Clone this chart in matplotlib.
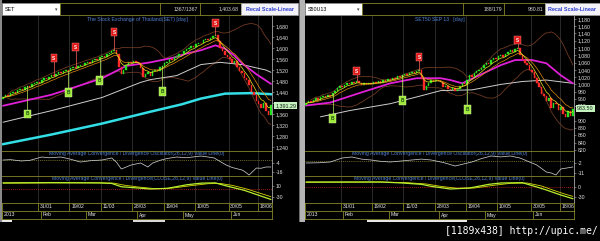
import matplotlib
matplotlib.use("Agg")
import matplotlib.pyplot as plt
import matplotlib.transforms as mtransforms
from matplotlib.patches import Rectangle
import numpy as np
import pandas as pd

plt.rcParams['font.family'] = ['Liberation Sans', 'DejaVu Sans']

W, H = 600, 241

# ---------------- data ----------------
set_first_open = 1415
set_close = [1420, 1428, 1425, 1436, 1441, 1438, 1447, 1452, 1449, 1458, 1463, 1460, 1468, 1474,
             1478, 1472, 1483, 1490, 1487, 1495, 1502, 1498, 1506, 1512, 1509, 1516, 1521, 1518,
             1526, 1531, 1527, 1535, 1540, 1537, 1545, 1551, 1547, 1555, 1560, 1557, 1566,
             1572, 1568, 1577, 1583, 1588, 1592, 1579, 1530, 1505, 1522, 1540, 1548, 1544,
             1553, 1550, 1545, 1528, 1495, 1505, 1512, 1500, 1515, 1522, 1518, 1530, 1536,
             1545, 1551, 1560, 1556, 1566, 1572, 1580, 1577, 1588, 1595, 1600, 1608, 1603,
             1614, 1620, 1618, 1628, 1633, 1630, 1638, 1643, 1646, 1625, 1600, 1590, 1575, 1568,
             1560, 1545, 1552, 1530, 1515, 1508, 1490, 1482, 1465, 1440, 1430, 1408, 1395, 1383,
             1400, 1372, 1355, 1391.29]

s50_first_open = 944
s50_close = [948, 955, 951, 957, 962, 958, 965, 969, 966, 972, 969, 976, 983, 990,
             997, 993, 999, 1004, 1000, 1006, 1003, 1010, 1005, 999, 1003, 1000, 1004, 1002,
             1006, 1003, 1008, 1005, 1011, 1009, 1014, 1012, 1018, 1016, 1022, 1020, 1026,
             1029, 1025, 1031, 1034, 1030, 1036, 1040, 1015, 985, 996, 1004, 1011, 1008,
             1012, 1010, 1006, 992, 997, 988, 984, 990, 983, 987, 995, 1003, 1000,
             1012, 1025, 1021, 1030, 1036, 1039, 1045, 1052, 1058, 1055, 1067, 1072, 1069,
             1078, 1080, 1075, 1084, 1088, 1094, 1090, 1097, 1100, 1082, 1067, 1060, 1053, 1040,
             1033, 1018, 1005, 992, 975, 968, 955, 962, 935, 948, 945, 930, 938, 918,
             910, 927, 912, 933.5]

date_labels = ['31/01', '19/02', '11/03', '28/03', '19/04', '10/05', '30/05', '18/06']
date_pos = [14.5, 27.5, 40.5, 53.5, 66.5, 79.5, 93.5, 105.5]
month_labels = ['2013', 'Feb', 'Mar', 'Apr', 'May', 'Jun']
month_pos = [-0.5, 15.5, 34.5, 55.5, 74.5, 94.5]

# slow moving averages (SET)
set_mag_idx = [0, 20, 41, 51, 61, 71, 76, 82, 88, 92, 96, 99, 105, 111]
set_magenta = [1390, 1430, 1490, 1535, 1548, 1566, 1580, 1592, 1610, 1598, 1572, 1545, 1505, 1470]
set_white_idx = [0, 20, 41, 57, 61, 72, 82, 90, 99, 109, 111]
set_white = [1330, 1372, 1420, 1475, 1485, 1500, 1540, 1548, 1540, 1520, 1512]
set_cyan_idx = [0, 20, 41, 61, 74, 82, 92, 103, 111]
set_cyan = [1250, 1285, 1325, 1368, 1395, 1416, 1434, 1436, 1432]

# slow moving averages (S50U13)
s50_mag_idx = [0, 10, 23, 35, 46, 56, 60, 65, 73, 81, 87, 94, 100, 106, 111]
s50_magenta = [942, 950, 978, 1003, 1017, 1017, 1012, 1003, 1028, 1053, 1067, 1067, 1058, 1025, 1003]
s50_white_idx = [6, 18, 35, 48, 56, 69, 81, 90, 100, 111]
s50_white = [911, 928, 947, 969, 983, 985, 1000, 1008, 1012, 1003]

# signals
set_s_idx = [21, 30, 46, 88]
set_s_level = [1563, 1603, 1658, 1691]
set_b_idx = [10, 27, 40, 66]
set_b_level = [1361, 1438, 1482, 1442]
s50_s_idx = [21, 47, 88]
s50_s_level = [1036, 1075, 1122]
s50_b_idx = [11, 40, 67]
s50_b_level = [906, 956, 931]

# MACD oscillator
set_osc_idx = [0, 3, 7.5, 11, 16, 19, 24, 28, 32, 36, 41, 45, 47, 49, 53, 57, 60, 62, 65.5, 68,
               72, 76, 82, 85, 87.5, 92.5, 95, 99, 100, 102, 105, 107, 109, 111]
set_osc = [0, 0.5, -1.3, -0.5, 4, 3, 4, 1, -2.7, -1, 0, 2.7, -3, -12, -6.7, -4, -9.3, -4, 0, 2,
           4, 3, 5.3, 4, 2.7, -6.7, -10, -13.3, -15, -20, -10.7, -11, -9.3, -9.3]
s50_osc_idx = [0, 5, 10, 15, 19, 23, 27, 31, 35, 44, 48, 52, 57, 62, 69, 73, 77, 81, 85, 89,
               96, 100, 102, 104, 106, 111]
s50_osc = [-2, -1.8, -1.1, 2.5, 3.4, 1.5, 0.7, -0.5, -1.1, 0.7, 1.5, 0.7, -1.5, -4.7, -1.1, 2,
           4.3, 3.5, 4.3, 2.5, -3.8, -10.1, -11, -12.8, -7.4, -5.6]

# MACD and signal
set_macd_idx = [0, 20, 40, 45, 49, 55, 61, 68, 76, 82, 88, 93, 100, 105, 111]
set_macd = [22, 23, 22, 20, 8, 4, 0, 2, 15, 21, 22, 10, -5, -20, -38]
set_sig_idx = [0, 20, 40, 46, 50, 56, 63, 70, 78, 85, 90, 95, 101, 106, 111]
set_sig = [21, 22, 22, 21, 14, 7, 1, 3, 12, 19, 20, 13, 0, -14, -28]
s50_macd_idx = [0, 31, 40, 48, 52, 60, 68, 76, 81, 90, 96, 100, 106, 111]
s50_macd = [15, 15, 12, 8, 2, -6, -3, 8, 12, 13, 0, -9, -24, -35]
s50_sig_idx = [0, 31, 42, 50, 56, 63, 70, 78, 85, 92, 98, 103, 108, 111]
s50_sig = [14, 15, 13, 9, 2, -4, -3, 5, 11, 12, 3, -10, -22, -28]

# ---------------- styling ----------------
OLIVE = '#85852a'
GRID = '#3c3c3c'
TXT = '#e4e4e4'
BLUE_T = '#4f82d6'
FS = 3.7

fig = plt.figure(figsize=(6, 2.41), dpi=100, facecolor='black')


def add_ax(x0, y0, x1, y1):
    ax = fig.add_axes([x0 / W, 1 - y1 / H, (x1 - x0) / W, (y1 - y0) / H])
    ax.set_facecolor('black')
    for s in ax.spines.values():
        s.set_visible(False)
    return ax


def style_y(ax):
    ax.yaxis.tick_right()
    ax.spines['right'].set_visible(True)
    ax.spines['right'].set_color('#a8a8a8')
    ax.spines['right'].set_linewidth(0.6)
    ax.tick_params(axis='y', direction='out', length=1.6, width=0.4, colors='#b0b0b0',
                   labelsize=FS, labelcolor=TXT, pad=1.2)
    ax.tick_params(axis='x', bottom=False, labelbottom=False)


def draw_panel(x0, x1, close, first_open, ylim, yticks, title, mag, white, cyan,
               s_sig, b_sig, last_label, osc, osc_lim, osc_ticks, macd, sig, macd_lim, macd_ticks):
    n = len(close)
    close = np.array(close, float)
    opn = np.r_[first_open, close[:-1]]
    idx = np.arange(n)
    xl = (-0.5, n - 0.5)

    # ---- main price chart ----
    ax = add_ax(x0, 16, x1, 151)
    ax.set_xlim(*xl)
    ax.set_ylim(*ylim)
    style_y(ax)
    ax.set_yticks(yticks)
    ax.set_yticklabels([f"{v:,}" for v in yticks])
    for p in date_pos:
        ax.axvline(p, color=GRID, lw=0.5, zorder=0)

    s = pd.Series(close)
    mid = s.rolling(20, min_periods=3).mean()
    sd = s.rolling(20, min_periods=3).std()
    ax.plot(idx, mid + 2 * sd, color='#6e3a22', lw=0.6, zorder=1)
    ax.plot(idx, mid - 2 * sd, color='#6e3a22', lw=0.6, zorder=1)

    if cyan is not None:
        ax.plot(cyan[0], cyan[1], color='#33dfe6', lw=1.8, zorder=2)
    ax.plot(white[0], white[1], color='#cfcfcf', lw=0.7, zorder=2)
    ax.plot(mag[0], mag[1], color='#e020d8', lw=1.3, zorder=2)

    up = close >= opn
    colors = np.where(up, '#22e022', '#ff2a2a')
    ax.bar(idx, np.abs(close - opn), bottom=np.minimum(opn, close), width=0.62,
           color=colors, edgecolor=colors, linewidth=0.3, zorder=3)

    ema5 = s.ewm(span=5, adjust=False).mean()
    ema10 = s.ewm(span=10, adjust=False).mean()
    ax.plot(idx, ema10, color='#e08a10', lw=0.5, zorder=4)
    ax.plot(idx, ema5, color='#e8e820', lw=0.5, zorder=4)

    for i, lvl in zip(*s_sig):
        ax.plot([i, i], [close[i], lvl], color='#ff6060', lw=0.5, zorder=4)
        ax.text(i, lvl, 'S', ha='center', va='center', fontsize=3.4, color='white',
                fontweight='bold', zorder=6,
                bbox=dict(boxstyle='square,pad=0.35', fc='#e01818', ec='#ff9090', lw=0.3))
    for i, lvl in zip(*b_sig):
        ax.plot([i, i], [close[i], lvl], color='#b8f060', lw=0.5, zorder=4)
        ax.text(i, lvl, 'B', ha='center', va='center', fontsize=3.4, color='#1e4a10',
                fontweight='bold', zorder=6,
                bbox=dict(boxstyle='square,pad=0.35', fc='#9ee83e', ec='#e0ffa0', lw=0.3))

    ax.text(0.5, 0.975, title, transform=ax.transAxes, ha='center', va='center',
            fontsize=FS, color=BLUE_T)
    tr = mtransforms.blended_transform_factory(ax.transAxes, ax.transData)
    ax.text(1.012, close[-1], last_label, transform=tr, ha='left', va='center',
            fontsize=FS + 0.2, color='#102010', zorder=10, clip_on=False,
            bbox=dict(boxstyle='square,pad=0.2', fc='#c6f2c0', ec='none'))

    # ---- oscillator ----
    ao = add_ax(x0, 151, x1, 176)
    ao.set_xlim(*xl)
    ao.set_ylim(*osc_lim)
    style_y(ao)
    ao.set_yticks(osc_ticks)
    ao.set_yticklabels([f"{v}" for v in osc_ticks])
    for p in date_pos:
        ao.axvline(p, color=GRID, lw=0.5, zorder=0)
    ao.axhline(0, color='#8c8c30', lw=0.5, ls=(0, (1.5, 1.5)), zorder=1)
    ao.plot(osc[0], osc[1], color='#c8c8c8', lw=0.55, zorder=3)
    ao.text(0.5, 0.9, 'Moving Average Convergence / Divergence Oscillator(26,12,9) Value Line(0)',
            transform=ao.transAxes, ha='center', va='center', fontsize=FS, color=BLUE_T, zorder=4)

    # ---- MACD ----
    am = add_ax(x0, 176, x1, 203)
    am.set_xlim(*xl)
    am.set_ylim(*macd_lim)
    style_y(am)
    am.set_yticks(macd_ticks)
    am.set_yticklabels([f"{v}" for v in macd_ticks])
    for p in date_pos:
        am.axvline(p, color=GRID, lw=0.5, zorder=0)
    am.axhline(0, color='#d02020', lw=0.5, ls=(0, (1.5, 1.5)), zorder=1)
    am.plot(sig[0], sig[1], color='#d6d600', lw=0.6, zorder=3)
    am.plot(macd[0], macd[1], color='#b8f030', lw=0.9, zorder=3)
    am.text(0.5, 0.9, 'Moving Average Convergence / Divergence(CLOSE,26,12,9) Value Line(0)',
            transform=am.transAxes, ha='center', va='center', fontsize=FS, color=BLUE_T, zorder=4)

    # ---- date row ----
    ad = add_ax(x0, 203, x1, 211)
    ad.set_xlim(*xl)
    ad.set_ylim(0, 1)
    ad.set_xticks([]); ad.set_yticks([])
    for p, lab in zip(date_pos, date_labels):
        ad.axvline(p, color=OLIVE, lw=0.6)
        ad.text(p + 0.7, 0.5, lab, ha='left', va='center', fontsize=FS, color=TXT, clip_on=True)
    for sp in ad.spines.values():
        sp.set_visible(True); sp.set_color(OLIVE); sp.set_linewidth(0.6)

    # ---- month row ----
    amo = add_ax(x0, 211, x1, 219)
    amo.set_xlim(*xl)
    amo.set_ylim(0, 1)
    amo.set_xticks([]); amo.set_yticks([])
    for p, lab in zip(month_pos, month_labels):
        amo.axvline(p, color=OLIVE, lw=0.6)
        amo.text(p + 0.7, 0.5, lab, ha='left', va='center', fontsize=FS, color=TXT)
    for sp in amo.spines.values():
        sp.set_visible(True); sp.set_color(OLIVE); sp.set_linewidth(0.6)

    return ax


draw_panel(2, 272, set_close, set_first_open, (1225, 1717), list(range(1240, 1681, 40)),
           'The Stock Exchange of Thailand(SET) [day]',
           (set_mag_idx, set_magenta), (set_white_idx, set_white), (set_cyan_idx, set_cyan),
           (set_s_idx, set_s_level), (set_b_idx, set_b_level), '1,391.29',
           (set_osc_idx, set_osc), (-21.3, 12), [-4, -16],
           (set_macd_idx, set_macd), (set_sig_idx, set_sig), (-51, 47), [10, -30])

draw_panel(305, 574, s50_close, s50_first_open, (817, 1188),
           [v for v in range(820, 1181, 20) if v != 920],
           'SET50 SEP 13   [day]',
           (s50_mag_idx, s50_magenta), (s50_white_idx, s50_white), None,
           (s50_s_idx, s50_s_level), (s50_b_idx, s50_b_level), '933.50',
           (s50_osc_idx, s50_osc), (-13.7, 8.8), [-2, -11],
           (s50_macd_idx, s50_macd), (s50_sig_idx, s50_sig), (-48, 33), [0, -30])

# ---------------- overlay chrome (pixel coordinates) ----------------
ov = fig.add_axes([0, 0, 1, 1])
ov.set_xlim(0, W)
ov.set_ylim(H, 0)
ov.axis('off')
ov.patch.set_visible(False)


def rect(x0, y0, x1, y1, fc, ec='none', lw=0.5, z=5):
    ov.add_patch(Rectangle((x0, y0), x1 - x0, y1 - y0, fc=fc, ec=ec, lw=lw, zorder=z))


def hline(y, x0, x1, c=OLIVE, lw=0.6):
    ov.plot([x0, x1], [y, y], color=c, lw=lw, zorder=6)


# left frame edge and middle separator
rect(0, 0, 1.5, 222, '#8a8a8a')
rect(299, 0, 305, 222, '#b4b4b4')
rect(299, 0, 300, 222, '#6a6a6a')

for (a, b) in [(2, 272), (305, 574)]:
    hline(151, a, b)
    hline(176, a, b)

# scrollbar remnants
rect(2, 219.5, 12, 222, '#e8e8e8')
rect(133, 219.5, 165, 222, '#d8d8d8')
rect(367, 219.5, 467, 222, '#e8e8e8')

# top bars
for (d0, d1, name, b0, div1, div2, lab1, lab2, btn0, btn1) in [
        (2, 60, 'SET', 60, 160, 200, '1367/1367', '1,403.68', 241, 298),
        (305, 362, 'S50U13', 362, 463, 504, '188/179', '980.81', 545, 600)]:
    rect(d0, 3, d1, 15, 'white', '#909090', 0.5)
    ov.text(d0 + 3, 9.2, name, fontsize=FS + 0.2, color='black', va='center', ha='left', zorder=7)
    ov.text(d1 - 4, 9.2, '\u25be', fontsize=3.5, color='#404040', va='center', ha='center',
            family=['DejaVu Sans'], zorder=7)
    rect(b0, 3, btn0, 15, 'black', OLIVE, 0.6)
    ov.plot([div1, div1], [3, 15], color=OLIVE, lw=0.6, zorder=6)
    ov.plot([div2, div2], [3, 15], color=OLIVE, lw=0.6, zorder=6)
    ov.text(div2 - 2, 9.2, lab1, fontsize=FS, color='#d8d8d8', va='center', ha='right', zorder=7)
    ov.text(btn0 - 2, 9.2, lab2, fontsize=FS, color='#d8d8d8', va='center', ha='right', zorder=7)
    rect(btn0, 3, btn1, 15, '#f2f2f8', '#a0a0a0', 0.5)
    ov.text((btn0 + btn1) / 2, 9.2, 'Recal Scale-Linear', fontsize=FS + 0.2, color='#2a3ad0',
            fontweight='bold', va='center', ha='center', zorder=7)

# watermark
ov.text(598, 231, '[1189x438] http://upic.me/', fontsize=7, color='white', ha='right',
        va='center', family=['DejaVu Sans Mono'], zorder=7)

fig.savefig('out.png', dpi=100, facecolor='black')
